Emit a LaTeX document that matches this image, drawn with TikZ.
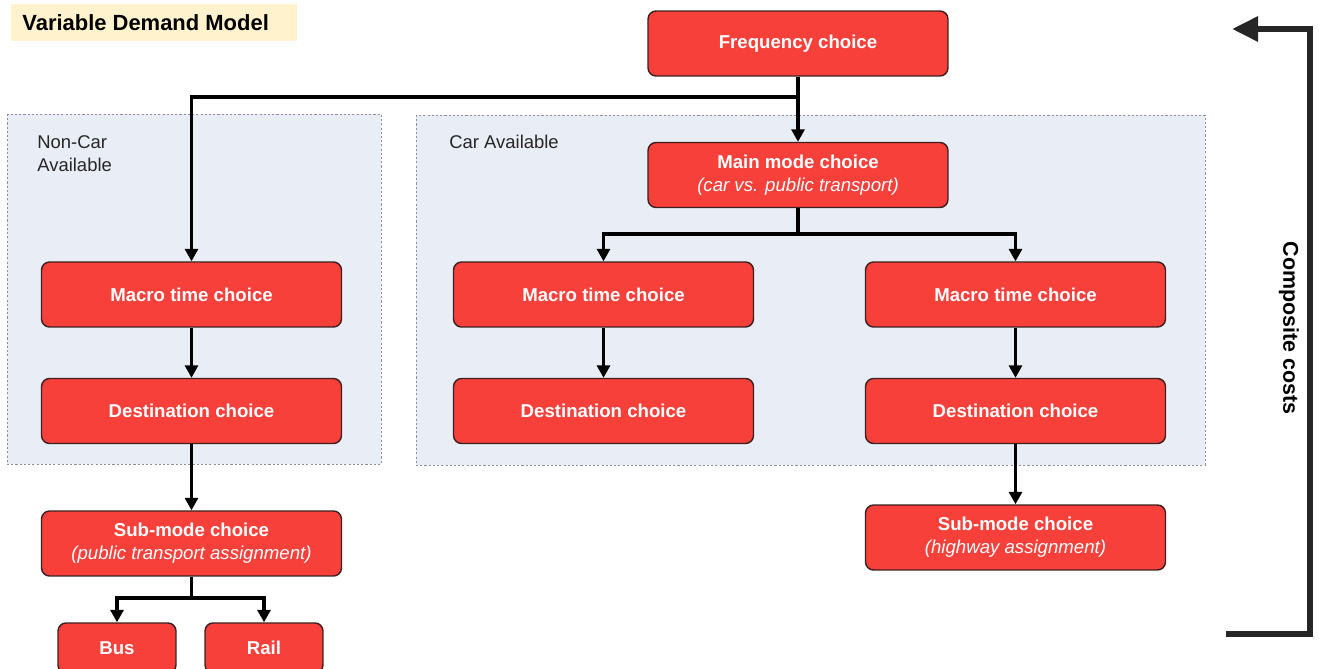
\documentclass[tikz,border=0pt]{standalone}
\usepackage{fontspec}
\setmainfont{Liberation Sans}
\usetikzlibrary{arrows.meta}

\definecolor{boxred}{HTML}{F8403B}
\definecolor{boxedge}{HTML}{3A2020}
\definecolor{areafill}{HTML}{E9EDF5}
\definecolor{areaedge}{HTML}{8A8F99}
\definecolor{titlefill}{HTML}{FFF2CC}
\definecolor{costgray}{HTML}{262626}

% italic second line inside a choice box
\newcommand{\detailline}[1]{{\itshape\mdseries #1}}

\tikzset{
  choice/.style={draw=boxedge, line width=0.8pt, fill=boxred, rounded corners=0.16cm,
    minimum width=6cm, minimum height=1.3cm, text=white, align=center,
    font=\bfseries\fontsize{10.6}{13}\selectfont, inner sep=0pt},
  smallchoice/.style={choice, minimum width=2.36cm, minimum height=1.0cm},
  area/.style={draw=areaedge, fill=areafill, line width=0.4pt, dash pattern=on 1.2pt off 1.2pt},
  arealabel/.style={anchor=north west, align=left, text=black!85,
    font=\fontsize{10.5}{13}\selectfont, inner sep=0pt},
  conn/.style={line width=2.2pt, line join=miter, -{Triangle[length=0.25cm, width=0.26cm]}},
  plain/.style={line width=2.2pt, line join=miter},
  costarrow/.style={line width=3.4pt, draw=costgray, line join=miter,
    -{Triangle[length=0.52cm, width=0.48cm]}}
}

\begin{document}
\begin{tikzpicture}[x=0.02cm, y=-0.02cm]
\useasboundingbox (0,0) rectangle (1319,669);

% title tag
\node[fill=titlefill, minimum width=5.72cm, minimum height=0.74cm, inner sep=0pt] (title) at (154,22.5) {};
\node[anchor=west, font=\bfseries\fontsize{12.5}{14}\selectfont, inner sep=0pt] (titletext) at (22,23) {Variable Demand Model};

% availability groups
\draw[area] (7,114) rectangle (381,464);
\draw[area] (416,115) rectangle (1205,465);
\node[arealabel] (nclabel) at (37,135) {Non-Car\\Available};
\node[arealabel] (calabel) at (449,135) {Car Available};

% choice boxes
\node[choice] (freq) at (798,43.5) {Frequency choice};
\node[choice] (main) at (798,175) {Main mode choice\\\detailline{(car vs. public transport)}};

\node[choice] (ncmacro) at (191.5,294.5) {Macro time choice};
\node[choice] (ncdest) at (191.5,411) {Destination choice};
\node[choice] (ncsub) at (191.5,543.5) {Sub-mode choice\\\detailline{(public transport assignment)}};
\node[smallchoice] (bus) at (117,648) {Bus};
\node[smallchoice] (rail) at (264,648) {Rail};

\node[choice] (camacroa) at (603.5,294.5) {Macro time choice};
\node[choice] (cadesta) at (603.5,411) {Destination choice};
\node[choice] (camacrob) at (1015.5,294.5) {Macro time choice};
\node[choice] (cadestb) at (1015.5,411) {Destination choice};
\node[choice] (casub) at (1015.5,537.5) {Sub-mode choice\\\detailline{(highway assignment)}};

% connectors
\coordinate (jfreq) at (798,97);
\coordinate (jmain) at (798,234);
\coordinate (jsub) at (191.5,598);
\draw[plain] (freq.south) -- (jfreq);
\draw[conn] (jfreq) -| (ncmacro.north);
\draw[conn] (jfreq) -- (main.north);
\draw[plain] (main.south) -- (jmain);
\draw[conn] (jmain) -| (camacroa.north);
\draw[conn] (jmain) -| (camacrob.north);
\draw[conn] (ncmacro) -- (ncdest);
\draw[conn] (ncdest) -- (ncsub);
\draw[conn] (camacroa) -- (cadesta);
\draw[conn] (camacrob) -- (cadestb);
\draw[conn] (cadestb) -- (casub);
\draw[plain] (ncsub.south) -- (jsub);
\draw[conn] (jsub) -| (bus.north);
\draw[conn] (jsub) -| (rail.north);

% composite costs feedback
\coordinate (cstart) at (1226,634);
\coordinate (cend) at (1232,29);
\draw[costarrow] (cstart) -- (1310,634) -- (1310,29) -- (cend);
\node[rotate=-90, font=\bfseries\fontsize{12.2}{14}\selectfont, inner sep=0pt] (costs) at (1289,328) {Composite costs};
\end{tikzpicture}
\end{document}
